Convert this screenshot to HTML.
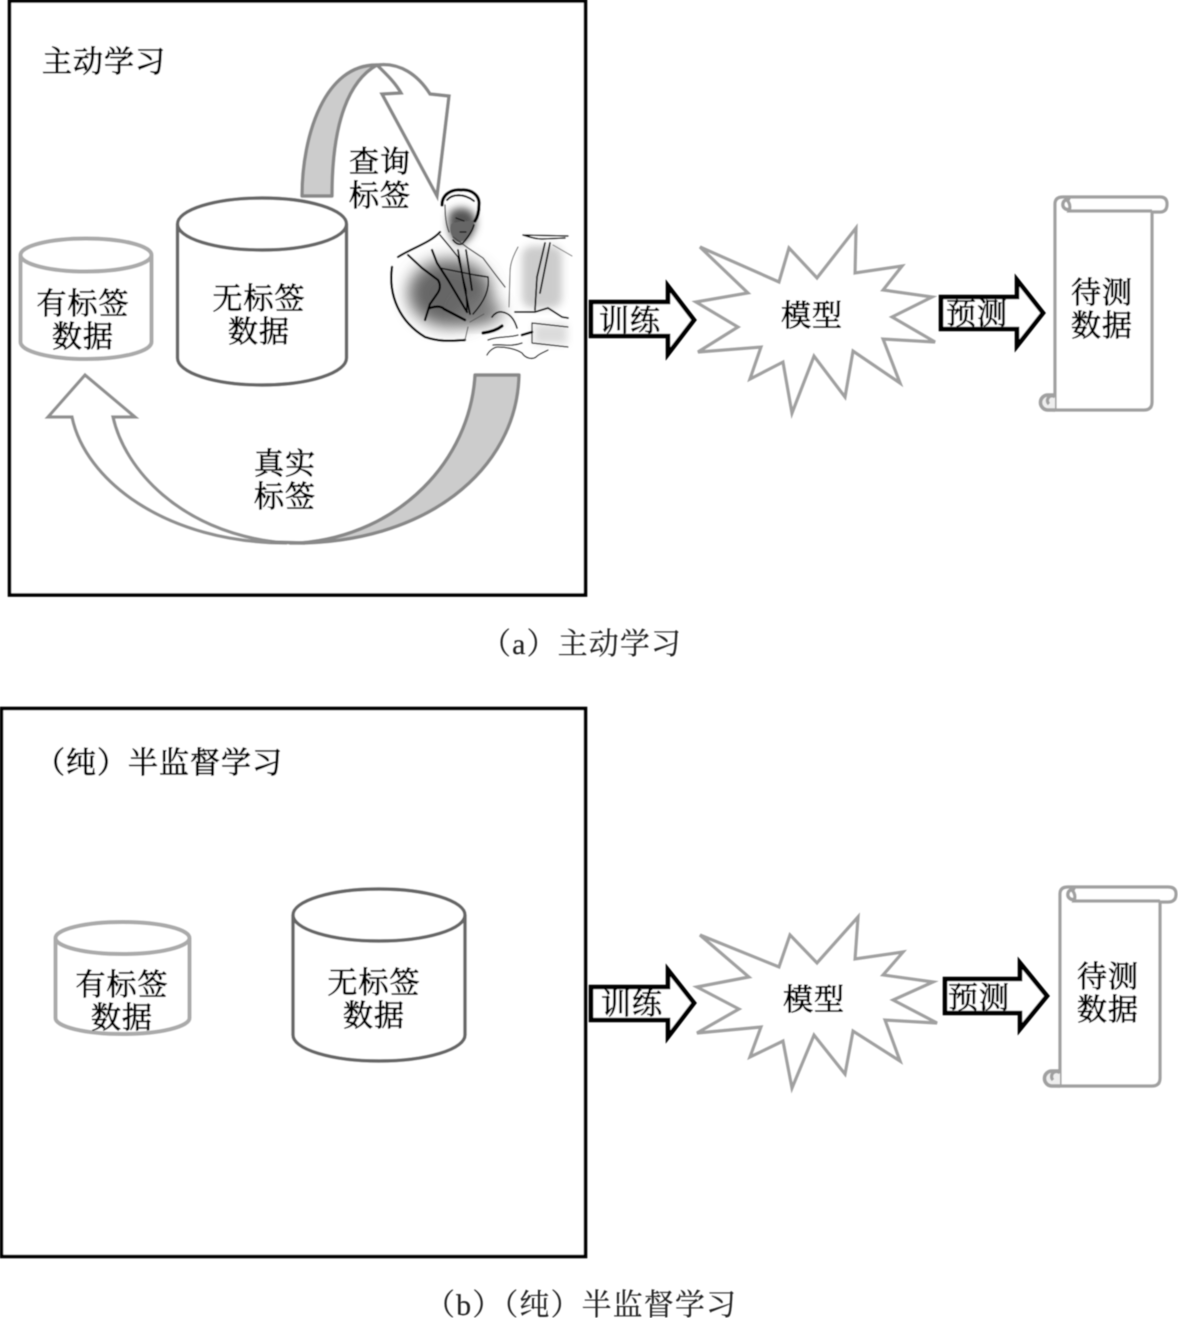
<!DOCTYPE html>
<html><head><meta charset="utf-8">
<style>
html,body{margin:0;padding:0;background:#fff;width:1178px;height:1318px;overflow:hidden}
svg{display:block}
text{font-family:"Liberation Serif","Noto Serif CJK SC",serif;font-size:30px;fill:#000;stroke:#000;stroke-width:.8px;letter-spacing:1px}
.c{text-anchor:middle}
.cap{stroke:#222;stroke-width:.15px;fill:#222;letter-spacing:1.1px}
</style></head><body>
<svg width="1178" height="1318" viewBox="0 0 1178 1318" xmlns="http://www.w3.org/2000/svg">
<defs>
<filter id="s" x="-5%" y="-5%" width="110%" height="110%"><feGaussianBlur stdDeviation=".6"/></filter>
<filter id="b8" x="-40%" y="-40%" width="180%" height="180%"><feGaussianBlur stdDeviation="8"/></filter>
<filter id="b3" x="-30%" y="-30%" width="160%" height="160%"><feGaussianBlur stdDeviation="4"/></filter>
<polygon id="star" points="700,247 779,282 789,248 817,278 856,228 855,273 902,266 883,290 932,297 892,317 935,342 883,339 900,383 853,351 845,397 814,356 792,413 783,362 750,379 761,347 698,352 738,327 696,302 748,293" fill="#fff" stroke="#a0a0a0" stroke-width="3.2" stroke-linejoin="miter"/>
</defs>
<g filter="url(#s)">
<rect x="9.5" y="1" width="576" height="594" fill="#fff" stroke="#000" stroke-width="3.6"/>
<rect x="1.5" y="708.5" width="584" height="548" fill="#fff" stroke="#000" stroke-width="3.6"/>

<!-- top curved arrow -->
<path d="M302,196 C302,135 325,64 377,65 C350,80 332,120 332,196 Z" fill="#ccc" stroke="#888" stroke-width="3.4" stroke-linejoin="round"/>
<path d="M377,65 C400,62 418,75 430,94 L449,96 L437,196 L382,94 L401,93 C395,82 385,73 377,65 Z" fill="#fff" stroke="#888" stroke-width="3.4" stroke-linejoin="miter"/>

<!-- bottom curved arrow -->
<path d="M475,375 L519,375 C517,470 425,545 290,543 L300,543 C400,535 470,460 475,375 Z" fill="#ccc" stroke="#888" stroke-width="3.4" stroke-linejoin="round"/>
<path d="M85,375 L135,417 L113,417 C125,470 180,530 275,542 L287,543 C165,543 85,480 72,417 L48,417 Z" fill="#fff" stroke="#8f8f8f" stroke-width="3.2" stroke-linejoin="miter"/>
<path d="M270,542 L305,543" fill="none" stroke="#888" stroke-width="3.4"/>

<!-- cylinders a -->
<path d="M20.5,255 A65.5,16.5 0 0 1 151.5,255 V342 A65.5,17 0 0 1 20.5,342 Z M20.5,255 A65.5,16.5 0 0 0 151.5,255" fill="#fff" stroke="#aaa" stroke-width="4"/>
<path d="M177.5,224 A84.5,26 0 0 1 346.5,224 V358 A84.5,27 0 0 1 177.5,358 Z M177.5,224 A84.5,26 0 0 0 346.5,224" fill="#fff" stroke="#666" stroke-width="3.4"/>

<!-- cylinders b -->
<path d="M55.5,938 A67,16 0 0 1 189.5,938 V1018 A67,16 0 0 1 55.5,1018 Z M55.5,938 A67,16 0 0 0 189.5,938" fill="#fff" stroke="#aaa" stroke-width="4"/>
<path d="M293,915 A86,26 0 0 1 465,915 V1035 A86,26 0 0 1 293,1035 Z M293,915 A86,26 0 0 0 465,915" fill="#fff" stroke="#666" stroke-width="3.4"/>

<!-- person -->
<ellipse cx="450" cy="293" rx="42" ry="34" fill="#666" filter="url(#b8)"/>
<ellipse cx="480" cy="312" rx="22" ry="12" fill="#777" filter="url(#b8)"/>
<path d="M450,212 C462,203 476,210 476,222 C476,232 467,245 458,244 C449,240 446,222 450,212 Z" fill="#555" filter="url(#b3)"/>
<path d="M451,224 C460,220 468,222 474,220 C474,232 466,242 458,242 C451,238 449,230 451,224 Z" fill="#666"/>
<rect x="522" y="246" width="40" height="62" rx="10" fill="#ccc" filter="url(#b3)"/>
<rect x="534" y="324" width="33" height="20" fill="#d8d8d8" filter="url(#b3)" opacity=".9"/>
<g fill="none" stroke="#000" stroke-width="1.5" stroke-linecap="round" stroke-linejoin="round">
<path d="M442,205 C442,194 452,189 461,190 C471,189 480,195 479,205 C479,212 477,218 475,221" stroke-width="3.2"/>
<path d="M447,200 C452,194 464,193 474,201" stroke-width="2"/>
<path d="M445,205 C445,215 446,225 449,232" stroke="#333" stroke-width="1.2"/>
<path d="M456,218 L464,221 M460,232 L466,232" stroke-width="1.2"/>
<path d="M453,240 C456,244 459,245 462,244 C466,240 472,232 474,225" stroke-width="1.6"/>
<path d="M440,232 C430,243 412,248 398,257" stroke-width="2.2"/>
<path d="M392,267 C388,296 400,322 425,337 M425,337 C440,342 450,341 465,340" stroke-width="2.4"/>
<path d="M408,255 L422,268 L438,280 C441,285 440,290 437,294 L430,304 L425,320" stroke-width="2.2"/>
<path d="M432,250 L437,263 L448,280 L467,312" stroke-width="2.2"/>
<path d="M430,308 C436,306 441,306 444,309 L465,320" stroke-width="2.4"/>
<path d="M440,235 L450,247 L458,257 L466,290 L467,310" stroke-width="1.4"/>
<path d="M458,250 L464,285 L470,314 M466,250 L472,290" stroke-width="1.8"/>
<path d="M440,268 L475,275 L488,277 C490,290 484,302 473,314" stroke-width="1.4"/>
<path d="M453,237 L468,248 L483,258 L495,274 L505,287" stroke="#444" stroke-width="1.3"/>
<path d="M492,317 C494,314 498,311 502,312 C509,313 514,318 517,328" stroke-width="1.6"/>
<path d="M483,333 C490,332 497,330 502,326" stroke-width="3.2"/>
<path d="M468,327 L465,340 M470,322 L484,314" stroke="#555" stroke-width="1"/>
<path d="M488,340 C498,336 508,338 518,335 M493,345 C503,344 512,347 522,343" stroke-width="1.3"/>
<path d="M487,355 C489,351 494,347 498,347 C506,347 516,349 522,353 C525,358 532,360 536,357 C540,353 545,352 548,350" stroke-width="1.3"/>
<path d="M523,235 C532,238 537,239 542,239 M523,235 L568,236 M542,239 L565,238" stroke-width="1.5"/>
<path d="M518,247 C512,258 510,265 510,273 L509,307" stroke="#555" stroke-width="1"/>
<path d="M545,243 L537,277 L535,310 M550,243 L540,293" stroke-width="1.7"/>
<path d="M553,245 L572,256" stroke="#666" stroke-width="1"/>
<path d="M515,312 L535,312 L548,308 L562,317 L568,318" stroke-width="1.8"/>
<path d="M532,323 L568,327 M532,323 L532,343 L568,347" stroke-width="1.2"/>
<path d="M522,335 L532,332" stroke-width="2.6"/>
</g>

<!-- a: right side -->
<polygon points="591,302 668,302 668,286 694,320 668,354 668,336 591,336" fill="#fff" stroke="#000" stroke-width="4.6" stroke-linejoin="miter"/>
<use href="#star"/>
<polygon points="941,297 1017,297 1017,280 1043,313 1017,346 1017,329 941,329" fill="#fff" stroke="#000" stroke-width="4.6" stroke-linejoin="miter"/>
<g fill="#fff" stroke="#a0a0a0" stroke-width="3.2">
<path d="M1055,210 V204 Q1055,197 1063,197 H1160 Q1167,197 1167,204 Q1167,212 1160,212 H1152 V402 Q1152,410 1144,410 H1055 V395 V210 Z"/>
<path d="M1065,198 Q1072,204 1069,211 H1152" fill="none"/>
<path d="M1070,200 A5,5 0 1 0 1070,209" fill="none" stroke-width="3.5"/>
<path d="M1055,395 H1048 A7.5,7.5 0 0 0 1048,410 H1055" fill="#eee" stroke-width="3.6"/>
<path d="M1055,397 A4,4 0 0 0 1049,404" fill="none"/>
</g>

<!-- b: right side -->
<polygon points="591,987 668,987 668,970 694,1003 668,1037 668,1020 591,1020" fill="#fff" stroke="#000" stroke-width="4.6" stroke-linejoin="miter"/>
<polygon points="700,935 779,967 790,935 817,963 858,917 855,959 903,952 883,975 933,982 893,1000 937,1023 885,1020 900,1061 853,1031 845,1074 814,1035 792,1088 783,1041 750,1057 761,1027 697,1033 739,1009 697,987 749,977" fill="#fff" stroke="#a0a0a0" stroke-width="3.2"/>
<polygon points="945,979 1020,979 1020,963 1047,996 1020,1029 1020,1013 945,1013" fill="#fff" stroke="#000" stroke-width="4.6" stroke-linejoin="miter"/>
<g fill="#fff" stroke="#a0a0a0" stroke-width="3.2">
<path d="M1060,900 V894 Q1060,887 1068,887 H1168 Q1176,887 1176,894 Q1176,902 1168,902 H1160 V1078 Q1160,1086 1152,1086 H1060 Z"/>
<path d="M1070,888 Q1077,894 1074,901 H1160" fill="none"/>
<path d="M1075,890 A5,5 0 1 0 1075,899" fill="none" stroke-width="3.5"/>
<path d="M1060,1071 H1052 A7.5,7.5 0 0 0 1052,1086 H1060" fill="#eee" stroke-width="3.6"/>
<path d="M1060,1073 A4,4 0 0 0 1053,1080" fill="none"/>
</g>

<!-- text a -->
<text x="42" y="72">主动学习</text>
<text x="380" y="172" class="c">查询</text>
<text x="380" y="206" class="c">标签</text>
<text x="83" y="314" class="c">有标签</text>
<text x="83" y="347" class="c">数据</text>
<text x="259" y="309" class="c">无标签</text>
<text x="259" y="342" class="c">数据</text>
<text x="285" y="474" class="c">真实</text>
<text x="285" y="507" class="c">标签</text>
<text x="630" y="331" class="c">训练</text>
<text x="812" y="326" class="c">模型</text>
<text x="977" y="324" class="c">预测</text>
<text x="1102" y="303" class="c">待测</text>
<text x="1102" y="336" class="c">数据</text>
<text x="481" y="654" class="cap">（a）主动学习</text>

<!-- text b -->
<text x="35" y="773">（纯）半监督学习</text>
<text x="122" y="995" class="c">有标签</text>
<text x="122" y="1028" class="c">数据</text>
<text x="374" y="993" class="c">无标签</text>
<text x="374" y="1026" class="c">数据</text>
<text x="632" y="1014" class="c">训练</text>
<text x="814" y="1010" class="c">模型</text>
<text x="979" y="1008" class="c">预测</text>
<text x="1108" y="987" class="c">待测</text>
<text x="1108" y="1020" class="c">数据</text>
<text x="425" y="1315" class="cap">（b）（纯）半监督学习</text>
</g>
</svg>
</body></html>
